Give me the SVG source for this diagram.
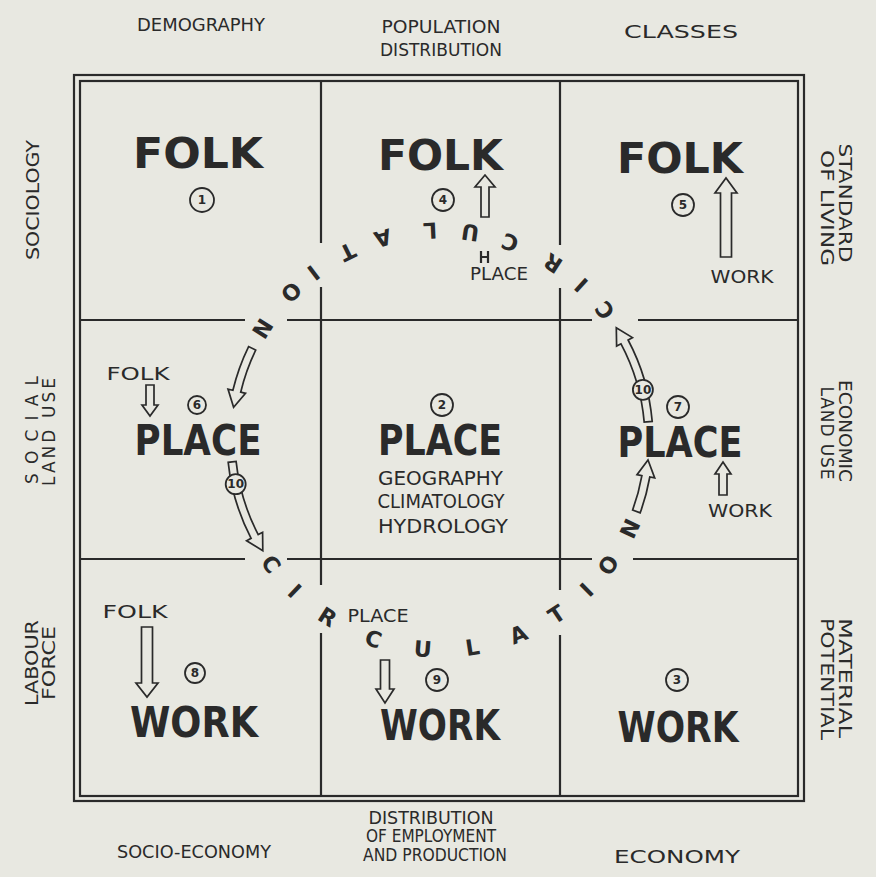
<svg xmlns="http://www.w3.org/2000/svg" width="876" height="877" viewBox="0 0 876 877">
<style>
text{fill:#2a2a2a;font-family:"DejaVu Sans","Liberation Sans",sans-serif}
.big{font-size:42px;font-weight:bold;text-anchor:middle}
.sm{font-size:18px;text-anchor:middle}
.sub{font-size:19px;text-anchor:middle}
.ax{font-size:17px;text-anchor:middle}
.cir{font-size:22px;font-weight:bold;text-anchor:middle;dominant-baseline:central}
.num{font-size:12px;text-anchor:middle;dominant-baseline:central;font-weight:bold}
.nc{fill:none;stroke:#2a2a2a;stroke-width:1.8}
.nc10{fill:#e8e8e1;stroke:#2a2a2a;stroke-width:1.8}
.grid{stroke:#2a2a2a;stroke-width:2.2;fill:none}
.arr{fill:#e8e8e1;stroke:#2a2a2a;stroke-width:1.7;stroke-linejoin:miter}
</style>
<rect width="876" height="877" fill="#e8e8e1"/>

<g id="frame">
<rect x="74" y="75" width="730" height="726" class="grid" stroke-width="3"/>
<rect x="80" y="81" width="718" height="715" class="grid" stroke-width="1.5"/>
<path class="grid" d="M321,81V243M321,287V585M321,633V796M560,81V245M560,288V590M560,635V796M80,320H245M287,320H592M638,320H798M80,559H245M287,559H592M633,559H798"/>
</g>

<g id="axis-labels">
<text class="ax" x="201" y="31" textLength="128" lengthAdjust="spacingAndGlyphs">DEMOGRAPHY</text>
<text class="ax" x="441" y="33" textLength="119" lengthAdjust="spacingAndGlyphs">POPULATION</text>
<text class="ax" x="441" y="56" textLength="122" lengthAdjust="spacingAndGlyphs">DISTRIBUTION</text>
<text class="ax" x="681" y="38" textLength="114" lengthAdjust="spacingAndGlyphs" font-size="18">CLASSES</text>
<text class="ax" x="431" y="824" textLength="125" lengthAdjust="spacingAndGlyphs">DISTRIBUTION</text>
<text class="ax" x="431" y="842" textLength="130" lengthAdjust="spacingAndGlyphs" font-size="15">OF EMPLOYMENT</text>
<text class="ax" x="435" y="861" textLength="144" lengthAdjust="spacingAndGlyphs" font-size="15">AND PRODUCTION</text>
<text class="ax" x="194" y="858" textLength="154" lengthAdjust="spacingAndGlyphs">SOCIO-ECONOMY</text>
<text class="ax" x="677" y="863" textLength="126" lengthAdjust="spacingAndGlyphs" font-size="21">ECONOMY</text>
<text class="ax" transform="translate(39,200) rotate(-90)" textLength="120" lengthAdjust="spacingAndGlyphs">SOCIOLOGY</text>
<text class="ax" transform="translate(37.5,430) rotate(-90)" textLength="108" lengthAdjust="spacing" font-size="20">SOCIAL</text>
<text class="ax" transform="translate(55,432) rotate(-90)" textLength="108" lengthAdjust="spacing" font-size="16">LAND USE</text>
<text class="ax" transform="translate(37.5,663) rotate(-90)" textLength="86" lengthAdjust="spacingAndGlyphs" font-size="18">LABOUR</text>
<text class="ax" transform="translate(55,663) rotate(-90)" textLength="74" lengthAdjust="spacingAndGlyphs" font-size="16">FORCE</text>
<text class="ax" transform="translate(839,203) rotate(90)" textLength="119" lengthAdjust="spacingAndGlyphs">STANDARD</text>
<text class="ax" transform="translate(821,208) rotate(90)" textLength="116" lengthAdjust="spacingAndGlyphs">OF LIVING</text>
<text class="ax" transform="translate(839,431) rotate(90)" textLength="102" lengthAdjust="spacingAndGlyphs">ECONOMIC</text>
<text class="ax" transform="translate(821,433) rotate(90)" textLength="93" lengthAdjust="spacing">LAND USE</text>
<text class="ax" transform="translate(839,678) rotate(90)" textLength="120" lengthAdjust="spacingAndGlyphs">MATERIAL</text>
<text class="ax" transform="translate(821,679) rotate(90)" textLength="122" lengthAdjust="spacingAndGlyphs">POTENTIAL</text>
</g>

<g id="connectors">
<polygon class="arr" points="481,217 481,187 475,187 485,175 495,187 489,187 489,217"/>
<path class="grid" stroke-width="1.6" d="M481,251V263M488,251V263M481,257H488"/>
<polygon class="arr" points="720.5,257 720.5,193 715,193 726,178 737,193 731.5,193 731.5,257"/>
<polygon class="arr" points="146,385 146,405 142,405 150,416 158,405 154,405 154,385"/>
<polygon class="arr" points="719,495 719,474 715,474 723,462 731,474 727,474 727,495"/>
<polygon class="arr" points="141.5,627 141.5,683 136,683 147,697 158,683 152.5,683 152.5,627"/>
<polygon class="arr" points="380.5,660 380.5,689 376,689 385,703 394,689 389.5,689 389.5,660"/>
<path class="arr" d="M255.7,350.1 A205,205 0 0 0 240.7,392.2 L245.5,393.3 L233.6,407.3 L228.0,389.1 L232.9,390.3 A213,213 0 0 1 248.6,346.6 Z"/>
<path class="arr" d="M236.1,461.4 A205,205 0 0 0 258.2,534.6 L262.6,532.3 L262.8,550.8 L246.6,540.7 L251.1,538.3 A213,213 0 0 1 228.2,462.3 Z"/>
<path class="arr" d="M632.6,510.1 A205,205 0 0 0 641.9,475.6 L637.0,474.7 L648.0,460.0 L654.7,477.9 L649.8,477.0 A213,213 0 0 1 640.2,512.8 Z"/>
<path class="arr" d="M644.2,422.1 A205,205 0 0 0 621.0,343.8 L616.6,346.1 L616.3,327.7 L632.5,337.6 L628.1,340.0 A213,213 0 0 1 652.2,421.4 Z"/>
<circle class="nc10" cx="235.7" cy="484.2" r="10"/>
<text class="num" x="235.7" y="484.2" font-size="10">10</text>
<circle class="nc10" cx="642.9" cy="389.8" r="10"/>
<text class="num" x="642.9" y="389.8" font-size="10">10</text>
</g>

<g id="circulation">
<text class="cir" transform="translate(605.0,310.1) rotate(-128.2)">C</text>
<text class="cir" transform="translate(581.3,284.7) rotate(-137.7)">I</text>
<text class="cir" transform="translate(553.1,263.1) rotate(-147.4)">R</text>
<text class="cir" transform="translate(510.1,242.1) rotate(-160.5)">C</text>
<text class="cir" transform="translate(470.3,232.2) rotate(-171.7)">U</text>
<text class="cir" transform="translate(430.1,230.2) rotate(-182.7)">L</text>
<text class="cir" transform="translate(382.8,237.9) rotate(-195.8)">A</text>
<text class="cir" transform="translate(347.3,251.6) rotate(-206.2)">T</text>
<text class="cir" transform="translate(313.3,272.5) rotate(-217.1)">I</text>
<text class="cir" transform="translate(291.1,292.0) rotate(-224)">O</text>
<text class="cir" transform="translate(262.1,328.4) rotate(-237.9)">N</text>
<text class="cir" transform="translate(270.8,564.3) rotate(53.7)">C</text>
<text class="cir" transform="translate(294.4,591.3) rotate(43.9)">I</text>
<text class="cir" transform="translate(327.5,617.1) rotate(32.4)">R</text>
<text class="cir" transform="translate(373.4,639.1) rotate(18.5)">C</text>
<text class="cir" transform="translate(422.8,649.3) rotate(4.7)">U</text>
<text class="cir" transform="translate(472.5,647.5) rotate(-8.9)">L</text>
<text class="cir" transform="translate(518.7,634.7) rotate(-22)">A</text>
<text class="cir" transform="translate(556.8,614.5) rotate(-33.8)">T</text>
<text class="cir" transform="translate(586.9,590.0) rotate(-44.4)">I</text>
<text class="cir" transform="translate(608.6,565.2) rotate(-53.4)">O</text>
<text class="cir" transform="translate(630.3,528.7) rotate(-65)">N</text>
</g>

<g id="n1-folk">
<text class="big" x="198" y="168" textLength="130" lengthAdjust="spacingAndGlyphs">FOLK</text>
<circle class="nc" cx="202" cy="200" r="12"/><text class="num" x="202" y="200">1</text>
</g>
<g id="n4-folk">
<text class="big" x="440.5" y="170" textLength="125" lengthAdjust="spacingAndGlyphs">FOLK</text>
<circle class="nc" cx="443" cy="200" r="11"/><text class="num" x="443" y="200">4</text>
<text class="sm" x="499" y="280" textLength="58" lengthAdjust="spacingAndGlyphs">PLACE</text>
</g>
<g id="n5-folk">
<text class="big" x="680" y="173" textLength="126" lengthAdjust="spacingAndGlyphs">FOLK</text>
<circle class="nc" cx="683" cy="205" r="11"/><text class="num" x="683" y="205">5</text>
<text class="sm" x="742" y="283" textLength="63" lengthAdjust="spacingAndGlyphs" font-size="20">WORK</text>
</g>
<g id="n6-place">
<text class="sm" x="138" y="380" textLength="63" lengthAdjust="spacingAndGlyphs" font-size="21">FOLK</text>
<circle class="nc" cx="197" cy="405" r="9"/><text class="num" x="197" y="405" font-size="10">6</text>
<text class="big" x="198" y="455" textLength="127" lengthAdjust="spacingAndGlyphs">PLACE</text>
</g>
<g id="n2-place">
<circle class="nc" cx="442" cy="405" r="11"/><text class="num" x="442" y="405">2</text>
<text class="big" x="440" y="455" textLength="124" lengthAdjust="spacingAndGlyphs">PLACE</text>
<text class="sub" x="440.5" y="485" textLength="125" lengthAdjust="spacingAndGlyphs">GEOGRAPHY</text>
<text class="sub" x="441" y="508" textLength="127" lengthAdjust="spacingAndGlyphs">CLIMATOLOGY</text>
<text class="sub" x="443" y="533" textLength="130" lengthAdjust="spacingAndGlyphs">HYDROLOGY</text>
</g>
<g id="n7-place">
<circle class="nc" cx="678" cy="407" r="11"/><text class="num" x="678" y="407">7</text>
<text class="big" x="680" y="457" textLength="125" lengthAdjust="spacingAndGlyphs">PLACE</text>
<text class="sm" x="740" y="517" textLength="64" lengthAdjust="spacingAndGlyphs" font-size="17">WORK</text>
</g>
<g id="n8-work">
<text class="sm" x="135" y="618" textLength="65" lengthAdjust="spacingAndGlyphs" font-size="21">FOLK</text>
<circle class="nc" cx="195" cy="673" r="10"/><text class="num" x="195" y="673">8</text>
<text class="big" x="194" y="737" textLength="128" lengthAdjust="spacingAndGlyphs">WORK</text>
</g>
<g id="n9-work">
<text class="sm" x="378" y="622" textLength="61" lengthAdjust="spacingAndGlyphs" font-size="20">PLACE</text>
<circle class="nc" cx="437" cy="680" r="11"/><text class="num" x="437" y="680">9</text>
<text class="big" x="440" y="740" textLength="120" lengthAdjust="spacingAndGlyphs">WORK</text>
</g>
<g id="n3-work">
<circle class="nc" cx="677" cy="680" r="11"/><text class="num" x="677" y="680">3</text>
<text class="big" x="678" y="742" textLength="121" lengthAdjust="spacingAndGlyphs">WORK</text>
</g>
</svg>
